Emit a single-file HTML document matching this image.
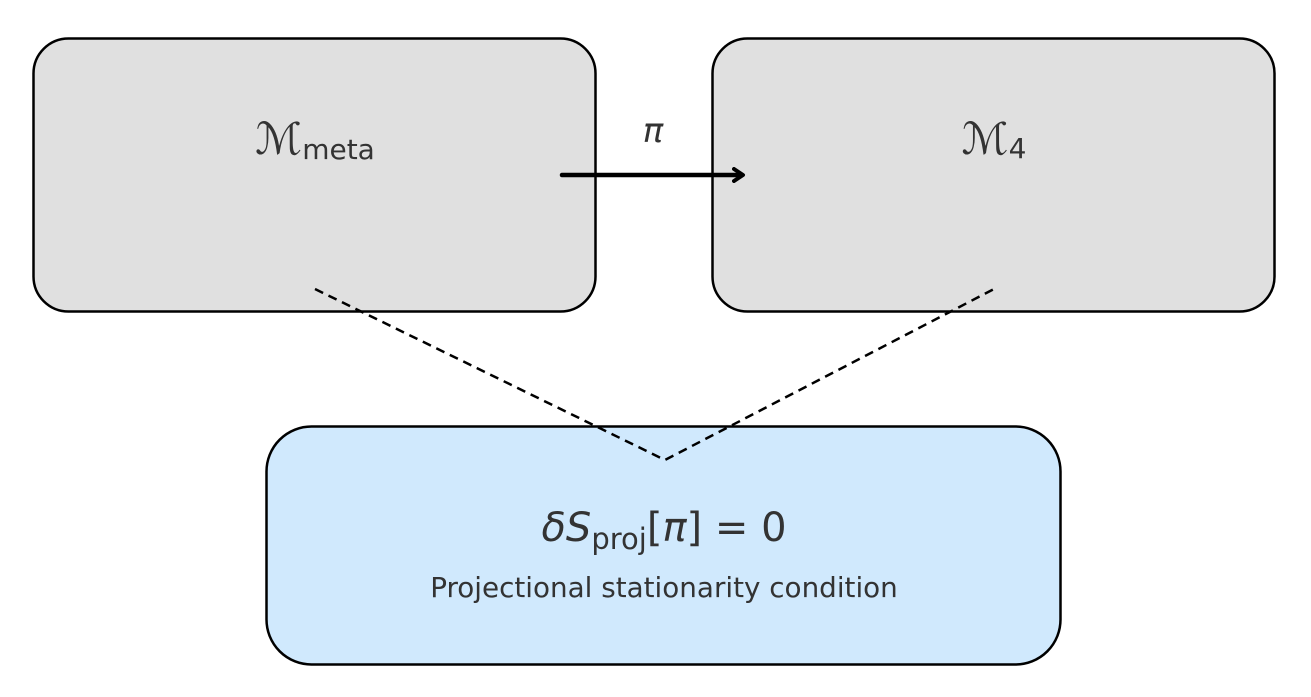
<!DOCTYPE html>
<html><head><meta charset="utf-8"><style>
html,body{margin:0;padding:0;background:#fff;}
svg{display:block;}
text{font-family:"DejaVu Sans","Liberation Sans",sans-serif;fill:#333;}
</style></head><body>
<svg width="1311" height="697" viewBox="0 0 1311 697">
<defs>
<marker id="ah" markerWidth="16" markerHeight="16" refX="10" refY="8" orient="auto" markerUnits="userSpaceOnUse">
<path d="M2,2 L11,8 L2,14" fill="none" stroke="#000" stroke-width="4" stroke-linecap="round" stroke-linejoin="round"/>
</marker>
</defs>
<rect x="33.5" y="38.5" width="562" height="273" rx="35" fill="#e0e0e0" stroke="#000" stroke-width="2.5"/>
<rect x="712.5" y="38.5" width="562" height="273" rx="35" fill="#e0e0e0" stroke="#000" stroke-width="2.5"/>
<rect x="266.5" y="426.5" width="794" height="238" rx="45" fill="#d0e9fd" stroke="#000" stroke-width="2.5"/>
<polyline points="315,289 665,460 994,289" fill="none" stroke="#000" stroke-width="2.5" stroke-dasharray="9,6"/>
<line x1="562" y1="175" x2="742" y2="175" stroke="#000" stroke-width="4.5" stroke-linecap="round" marker-end="url(#ah)"/>
<text x="653" y="142" font-size="34" font-style="italic" text-anchor="middle">π</text>
<text x="315" y="154" font-size="44" font-style="italic" text-anchor="middle">ℳ<tspan font-size="28" font-style="normal" dy="5">meta</tspan></text>
<text x="994" y="154" font-size="44" font-style="italic" text-anchor="middle">ℳ<tspan font-size="28" font-style="normal" dy="4">4</tspan></text>
<text x="664" y="541" font-size="40" text-anchor="middle"><tspan font-style="italic">δS</tspan><tspan font-size="29" dy="8">proj</tspan><tspan dy="-8">[</tspan><tspan font-style="italic">π</tspan><tspan>] = 0</tspan></text>
<text x="664" y="597" font-size="27.8" text-anchor="middle">Projectional stationarity condition</text>
</svg>
</body></html>
